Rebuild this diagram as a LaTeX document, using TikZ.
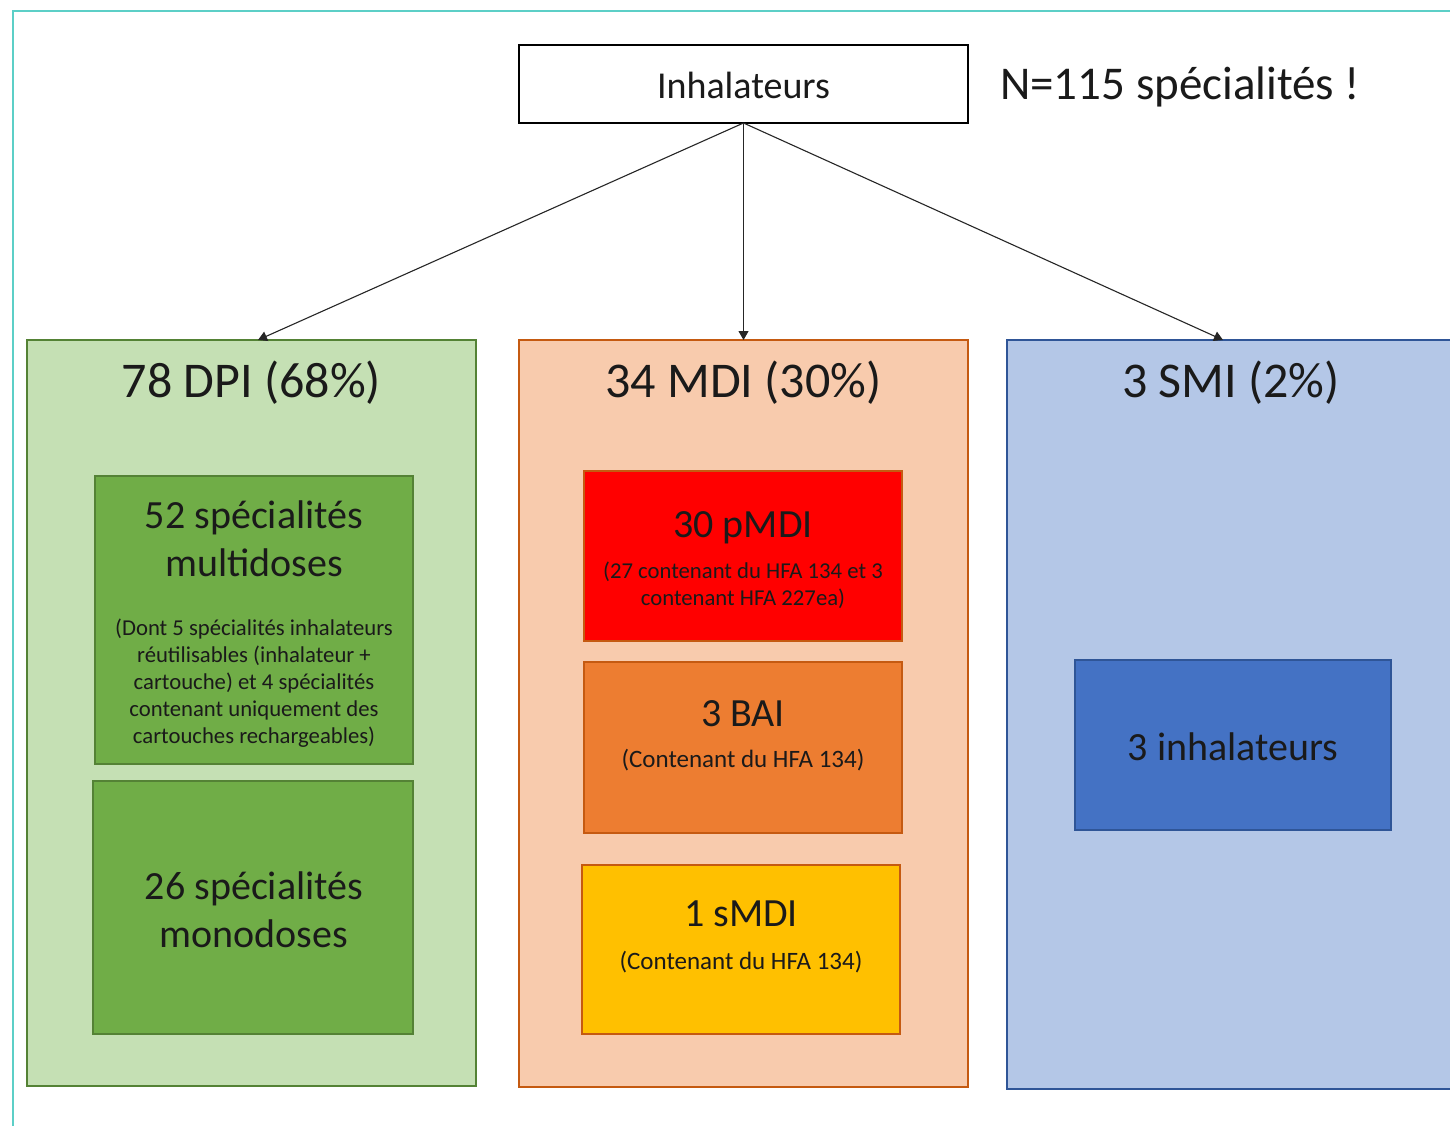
\documentclass[tikz,border=0pt]{standalone}
\usepackage{fontspec}
\setmainfont{Carlito}
\usetikzlibrary{arrows.meta}
\definecolor{tealb}{HTML}{5CCFC7}
\definecolor{grnL}{HTML}{C5E0B4}
\definecolor{grnD}{HTML}{70AD47}
\definecolor{grnB}{HTML}{548235}
\definecolor{orgL}{HTML}{F8CBAD}
\definecolor{orgB}{HTML}{C55A11}
\definecolor{orgM}{HTML}{ED7D31}
\definecolor{redM}{HTML}{FF0000}
\definecolor{yelM}{HTML}{FFC000}
\definecolor{bluL}{HTML}{B4C7E7}
\definecolor{bluM}{HTML}{4472C4}
\definecolor{bluB}{HTML}{2F5597}
\definecolor{txt}{HTML}{1A1A1A}
\begin{document}
\begin{tikzpicture}[x=1pt,y=-1pt,
  box/.style={draw,rectangle,inner sep=0pt,outer sep=0pt,line width=2pt},
  lbl/.style={text=txt,align=center,inner sep=0pt},
  big/.style={lbl,font=\fontsize{50}{60}\selectfont},
  mid/.style={lbl,font=\fontsize{40}{48}\selectfont},
  sml/.style={lbl,font=\fontsize{22.7}{27}\selectfont},
  smb/.style={lbl,font=\fontsize{25}{28}\selectfont},
  arr/.style={draw=black!85,line width=1.1pt,-{Triangle[width=10pt,length=9pt]}}]
\useasboundingbox (0,0) rectangle (1450,1126);
\clip (0,0) rectangle (1450,1126);
\fill[white] (0,0) rectangle (1450,1126);
\draw[tealb,line width=2pt] (13,1130) -- (13,11) -- (1460,11);

% top box
\node[box,draw=black,fill=white,minimum width=449pt,minimum height=78pt] (inh) at (743.5,84) {};
\node[lbl,font=\fontsize{38}{40}\selectfont] (inht) at (743.5,85) {Inhalateurs};
\node[lbl,font=\fontsize{47}{50}\selectfont,anchor=west] (n115) at (1000,87) {N=115 spécialités !};

% big boxes
\node[box,draw=grnB,fill=grnL,minimum width=449pt,minimum height=746pt] (dpi) at (251.5,713) {};
\node[box,draw=orgB,fill=orgL,minimum width=449pt,minimum height=747pt] (mdi) at (743.5,713.5) {};
\node[box,draw=bluB,fill=bluL,minimum width=449pt,minimum height=749pt] (smi) at (1231.5,714.5) {};

\node[big] (dpit) at (251.5,383) {78 DPI (68\%)};
\node[big] (mdit) at (743.5,383) {34 MDI (30\%)};
\node[big] (smit) at (1231,383) {3 SMI (2\%)};

% DPI inner
\node[box,draw=grnB,fill=grnD,minimum width=318pt,minimum height=288pt] (multi) at (254,620) {};
\node[mid] (multit) at (254,539) {52 spécialités\\multidoses};
\node[sml] (multis) at (254,683.5) {(Dont 5 spécialités inhalateurs\\réutilisables (inhalateur +\\cartouche) et 4 spécialités\\contenant uniquement des\\cartouches rechargeables)};
\node[box,draw=grnB,fill=grnD,minimum width=320pt,minimum height=253pt] (mono) at (253,907.5) {};
\node[mid] (monot) at (254,910) {26 spécialités\\monodoses};

% MDI inner
\node[box,line width=1.5pt,draw=orgB,fill=redM,minimum width=318pt,minimum height=170pt] (pmdi) at (743,556) {};
\node[mid] (pmdit) at (743,528) {30 pMDI};
\node[sml] (pmdis) at (743,585) {(27 contenant du HFA 134 et 3\\contenant HFA 227ea)};
\node[box,line width=1.5pt,draw=orgB,fill=orgM,minimum width=318pt,minimum height=171pt] (bai) at (743,747.5) {};
\node[mid] (bait) at (743,714) {3 BAI};
\node[smb] (bais) at (743,760) {(Contenant du HFA 134)};
\node[box,line width=1.5pt,draw=orgB,fill=yelM,minimum width=318pt,minimum height=169pt] (smdi) at (741,949.5) {};
\node[mid] (smdit) at (741,914) {1 sMDI};
\node[smb] (smdis) at (741,962) {(Contenant du HFA 134)};

% SMI inner
\node[box,line width=1.5pt,draw=bluB,fill=bluM,minimum width=316pt,minimum height=170pt] (inh3) at (1233,745) {};
\node[mid] (inh3t) at (1233,747) {3 inhalateurs};

% arrows
\coordinate (t1) at (258,340);
\coordinate (t2) at (743.5,340);
\coordinate (t3) at (1223,340);
\draw[arr] (inh.south) -- (t1);
\draw[arr] (inh.south) -- (t2);
\draw[arr] (inh.south) -- (t3);
\end{tikzpicture}
\end{document}
